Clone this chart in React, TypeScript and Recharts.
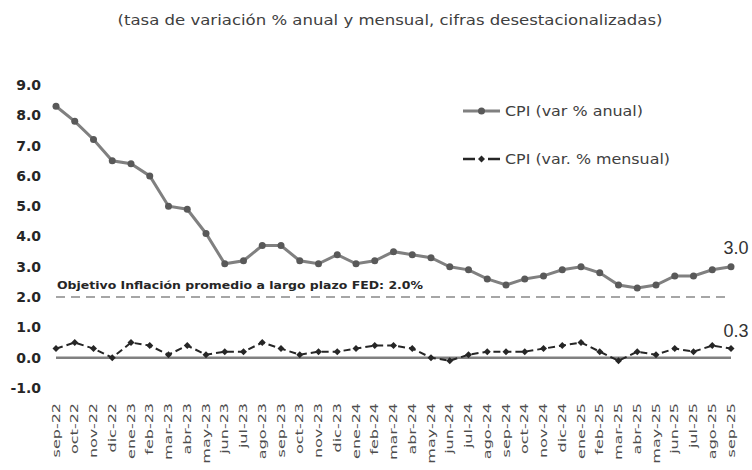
import React from "react";
import {
  LineChart,
  Line,
  XAxis,
  YAxis,
  ReferenceLine,
  Legend,
  LabelList,
} from "recharts";

const months = [
  "sep-22", "oct-22", "nov-22", "dic-22", "ene-23", "feb-23", "mar-23", "abr-23",
  "may-23", "jun-23", "jul-23", "ago-23", "sep-23", "oct-23", "nov-23", "dic-23",
  "ene-24", "feb-24", "mar-24", "abr-24", "may-24", "jun-24", "jul-24", "ago-24",
  "sep-24", "oct-24", "nov-24", "dic-24", "ene-25", "feb-25", "mar-25", "abr-25",
  "may-25", "jun-25", "jul-25", "ago-25", "sep-25",
];

const cpiAnual = [
  8.3, 7.8, 7.2, 6.5, 6.4, 6.0, 5.0, 4.9, 4.1, 3.1, 3.2, 3.7, 3.7, 3.2, 3.1, 3.4,
  3.1, 3.2, 3.5, 3.4, 3.3, 3.0, 2.9, 2.6, 2.4, 2.6, 2.7, 2.9, 3.0, 2.8, 2.4, 2.3,
  2.4, 2.7, 2.7, 2.9, 3.0,
];

const cpiMensual = [
  0.3, 0.5, 0.3, 0.0, 0.5, 0.4, 0.1, 0.4, 0.1, 0.2, 0.2, 0.5, 0.3, 0.1, 0.2, 0.2,
  0.3, 0.4, 0.4, 0.3, 0.0, -0.1, 0.1, 0.2, 0.2, 0.2, 0.3, 0.4, 0.5, 0.2, -0.1, 0.2,
  0.1, 0.3, 0.2, 0.4, 0.3,
];

const yTicks = [-1, 0, 1, 2, 3, 4, 5, 6, 7, 8, 9];
const fedTarget = 2.0;

const subtitle = "(tasa de variación % anual y mensual, cifras desestacionalizadas)";
const targetLabel = "Objetivo Inflación promedio a largo plazo FED: 2.0%";
const legendAnual = "CPI (var % anual)";
const legendMensual = "CPI (var. % mensual)";

const data = months.map((m, i) => ({ m, anual: cpiAnual[i], mensual: cpiMensual[i] }));
const last = months.length - 1;

const FONT = "'DejaVu Sans', sans-serif";

const MonthTick = (props: any) => {
  const { x, y, payload } = props;
  return (
    <g transform={`translate(${x},${y})`}>
      <text
        transform="rotate(-90) scale(1.6,1)"
        textAnchor="end"
        dy="0.36em"
        fontSize={10}
        fontFamily={FONT}
        fill="#4d4d4d"
      >
        {payload.value}
      </text>
    </g>
  );
};

const Diamond = (props: any) => {
  const { cx, cy } = props;
  if (cx == null || cy == null) return null;
  const s = 3.5;
  return (
    <polygon
      points={`${cx},${cy - s} ${cx + s},${cy} ${cx},${cy + s} ${cx - s},${cy}`}
      fill="#262626"
    />
  );
};

const endLabel = (dy: number) => (props: any) => {
  const { x, y, value, index } = props;
  if (index !== last) return null;
  return (
    <text
      x={x + 5}
      y={y + dy}
      textAnchor="middle"
      fontSize={18}
      fontFamily="'Liberation Sans', Arial, sans-serif"
      fill="#333333"
    >
      {Number(value).toFixed(1)}
    </text>
  );
};

const LegendBox = () => (
  <svg width={260} height={80} style={{ display: "block" }}>
    <line x1={3} x2={40} y1={11} y2={11} stroke="#808080" strokeWidth={3} />
    <circle cx={21.5} cy={11} r={3.5} fill="#595959" />
    <text x={45} y={16} fontSize={14} fontFamily={FONT} fill="#404040" textLength={138} lengthAdjust="spacingAndGlyphs">
      {legendAnual}
    </text>
    <line x1={3} x2={15} y1={59} y2={59} stroke="#262626" strokeWidth={2.5} />
    <polygon points="21.5,55.5 25,59 21.5,62.5 18,59" fill="#262626" />
    <line x1={28} x2={40} y1={59} y2={59} stroke="#262626" strokeWidth={2.5} />
    <text x={45} y={64} fontSize={14} fontFamily={FONT} fill="#404040" textLength={165} lengthAdjust="spacingAndGlyphs">
      {legendMensual}
    </text>
  </svg>
);

export default function App() {
  return (
    <div style={{ position: "absolute", left: 0, top: 0, width: 752, height: 470, background: "#ffffff" }}>
      <svg width={752} height={40} style={{ position: "absolute", left: 0, top: 0 }}>
        <text x={390} y={25} textAnchor="middle" fontSize={14} fontFamily={FONT} fill="#404040" textLength={545} lengthAdjust="spacingAndGlyphs">
          {subtitle}
        </text>
      </svg>
      <LineChart
        width={752}
        height={470}
        data={data}
        margin={{ top: 85, right: 21, bottom: 0, left: 0 }}
        style={{ fontFamily: FONT }}
      >
        <XAxis
          dataKey="m"
          interval={0}
          axisLine={false}
          tickLine={false}
          tickSize={0}
          tickMargin={15}
          height={82}
          tick={<MonthTick />}
        />
        <YAxis
          domain={[-1, 9]}
          ticks={yTicks}
          interval={0}
          width={56}
          axisLine={false}
          tickLine={false}
          tickSize={0}
          tickMargin={15}
          tickFormatter={(v: number) => v.toFixed(1)}
          tick={{ fontSize: 14, fontWeight: "bold", fill: "#262626", fontFamily: FONT }}
        />
        <ReferenceLine
          y={fedTarget}
          stroke="#a6a6a6"
          strokeWidth={2}
          strokeDasharray="9 6"
          label={{
            value: targetLabel,
            position: "insideTopLeft",
            offset: 0,
            content: (p: any) => (
              <text x={p.viewBox.x + 1} y={p.viewBox.y - 8} fontSize={11} fontWeight="bold" fontFamily={FONT} fill="#262626" textLength={366} lengthAdjust="spacingAndGlyphs">
                {targetLabel}
              </text>
            ),
          }}
        />
        <ReferenceLine y={0} stroke="#808080" strokeWidth={2.5} />
        <Legend
          layout="horizontal"
          verticalAlign="middle"
          align="center"
          wrapperStyle={{ left: 460, top: 100, width: 260 }}
          content={() => <LegendBox />}
        />
        <Line
          type="linear"
          dataKey="anual"
          stroke="#808080"
          strokeWidth={3}
          dot={{ r: 3.5, fill: "#595959", stroke: "none" }}
          isAnimationActive={false}
        >
          <LabelList dataKey="anual" content={endLabel(-13)} />
        </Line>
        <Line
          type="linear"
          dataKey="mensual"
          stroke="#262626"
          strokeWidth={2}
          strokeDasharray="7 4"
          dot={<Diamond />}
          isAnimationActive={false}
        >
          <LabelList dataKey="mensual" content={endLabel(-12)} />
        </Line>
      </LineChart>
    </div>
  );
}
